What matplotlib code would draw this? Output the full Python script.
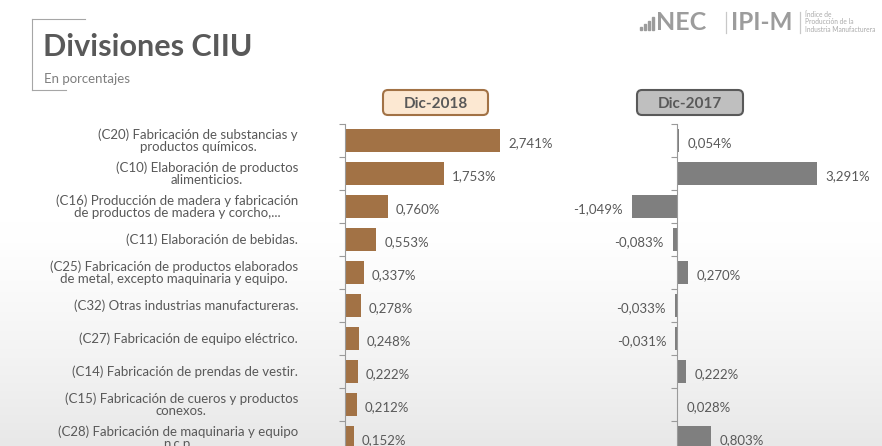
import matplotlib
matplotlib.use("Agg")
import matplotlib.pyplot as plt
import numpy as np
from matplotlib.patches import FancyBboxPatch, Rectangle
from matplotlib.lines import Line2D

plt.rcParams['font.family'] = ['Lato', 'DejaVu Sans']

categories = [
    "(C20) Fabricación de substancias y\nproductos químicos.",
    "(C10) Elaboración de productos\nalimenticios.",
    "(C16) Producción de madera y fabricación\nde productos de madera y corcho,...",
    "(C11) Elaboración de bebidas.",
    "(C25) Fabricación de productos elaborados\nde metal, excepto maquinaria y equipo.",
    "(C32) Otras industrias manufactureras.",
    "(C27) Fabricación de equipo eléctrico.",
    "(C14) Fabricación de prendas de vestir.",
    "(C15) Fabricación de cueros y productos\nconexos.",
    "(C28) Fabricación de maquinaria y equipo\nn.c.p.",
]
dic2018 = [2.741, 1.753, 0.760, 0.553, 0.337, 0.278, 0.248, 0.222, 0.212, 0.152]
dic2017 = [0.054, 3.291, -1.049, -0.083, 0.270, -0.033, -0.031, 0.222, 0.028, 0.803]
headers = ["Dic-2018", "Dic-2017"]
title = "Divisiones CIIU"
subtitle = "En porcentajes"

W, H = 882, 446
fig = plt.figure(figsize=(W / 100, H / 100), dpi=100)

def fx(x): return x / W
def fy(y): return 1 - y / H

# background gradient
bg = fig.add_axes([0, 0, 1, 1], zorder=-10)
grad = np.ones((200, 2, 3))
t = np.linspace(0, 1, 200)
shade = np.clip((t - 0.5) / 0.5, 0, 1) ** 1.3
for c in range(3):
    grad[:, :, c] = (1 - 0.09 * shade)[:, None]
bg.imshow(grad, aspect='auto', extent=[0, 1, 0, 1], origin='upper')
bg.set_axis_off()

text_col = '#595959'
brown = '#A27245'
gray = '#7F7F7F'

n = len(categories)
ypos = np.arange(n)
top_px, row_px = 124, 33
bottom_px = top_px + row_px * n

def make_axes(spine_px, left_px, right_px, scale):
    ax = fig.add_axes([fx(left_px), fy(bottom_px), (right_px - left_px) / W,
                       (bottom_px - top_px) / H])
    ax.set_xlim(-(spine_px - left_px) / scale, (right_px - spine_px) / scale)
    ax.set_ylim(n - 0.5, -0.5)
    ax.patch.set_alpha(0)
    for s in ['top', 'right', 'bottom']:
        ax.spines[s].set_visible(False)
    ax.spines['left'].set_position(('data', 0))
    ax.spines['left'].set_color('#9a9a9a')
    ax.spines['left'].set_linewidth(0.8)
    ax.set_xticks([])
    ax.set_yticks([])
    ax.set_yticks(np.arange(-0.5, n, 1.0), minor=True)
    ax.tick_params(axis='y', which='minor', length=4, color='#9a9a9a', width=0.8,
                   direction='out', labelleft=False)
    return ax

scale_l = 56.6
scale_r = 42.6
ax1 = make_axes(345, 345, 600, scale_l)
ax2 = make_axes(676.5, 560, 875, scale_r)

ax1.barh(ypos, dic2018, height=0.72, color=brown)
ax2.barh(ypos, dic2017, height=0.72, color=gray)

def fmt(v):
    return f"{v:.3f}".replace('.', ',') + '%'

for i, v in enumerate(dic2018):
    ax1.text(v + 8 / scale_l, i + 0.08, fmt(v), va='center', ha='left',
             fontsize=9.5, color=text_col)
for i, v in enumerate(dic2017):
    if v >= 0:
        ax2.text(v + 9 / scale_r, i + 0.08, fmt(v), va='center', ha='left',
                 fontsize=9.5, color=text_col)
    else:
        ax2.text(v - 9 / scale_r, i + 0.08, fmt(v), va='center', ha='right',
                 fontsize=9.5, color=text_col)

for i, lab in enumerate(categories):
    ax1.text(-47 / scale_l, i, lab, va='center', ha='right', multialignment='center',
             fontsize=9.5, color=text_col, linespacing=1.05, clip_on=False)

# header boxes
def header(x0, x1, text, fc, ec):
    y0, y1 = 90, 115
    box = FancyBboxPatch((x0 / 100, (H - y1) / 100), (x1 - x0) / 100, (y1 - y0) / 100,
                         boxstyle="round,pad=0,rounding_size=0.05",
                         transform=fig.dpi_scale_trans, fc=fc, ec=ec, lw=1.5)
    fig.patches.append(box)
    fig.text(fx((x0 + x1) / 2), fy((y0 + y1) / 2 + 1), text, ha='center', va='center',
             fontsize=11, fontweight='bold', color=text_col)

header(383, 488, headers[0], '#FCE8D2', '#A27245')
header(637, 743, headers[1], '#BFBFBF', '#595959')

# title block
fig.text(fx(43), fy(47), title, fontsize=22, fontweight='bold', color=text_col,
         ha='left', va='center')
fig.text(fx(44), fy(79), subtitle, fontsize=9.5, color='#7f7f7f', ha='left', va='center')
lc = '#a6a6a6'
fig.lines.append(Line2D([fx(32), fx(32)], [fy(19), fy(90)], color=lc, lw=0.8,
                        transform=fig.transFigure))
fig.lines.append(Line2D([fx(32), fx(85)], [fy(19), fy(19)], color=lc, lw=0.8,
                        transform=fig.transFigure))
fig.lines.append(Line2D([fx(32), fx(66)], [fy(90), fy(90)], color=lc, lw=0.8,
                        transform=fig.transFigure))

# logo
logo_col = '#9c9c9c'
for k, (bx, bh) in enumerate([(640, 3), (644, 6), (648, 9), (652, 13)]):
    fig.patches.append(Rectangle((fx(bx), fy(30)), 2.4 / W, bh / H, color=logo_col,
                                 transform=fig.transFigure))
fig.text(fx(656), fy(23), "NEC", fontsize=18, fontweight='bold', color=logo_col,
         ha='left', va='center')
fig.lines.append(Line2D([fx(726), fx(726)], [fy(12), fy(33)], color='#c8c8c8', lw=0.9,
                        transform=fig.transFigure))
fig.text(fx(731), fy(23), "IPI-M", fontsize=17.5, fontweight='bold', color=logo_col,
         ha='left', va='center')
fig.lines.append(Line2D([fx(800), fx(800)], [fy(12), fy(33)], color='#c8c8c8', lw=0.9,
                        transform=fig.transFigure))
fig.text(fx(805), fy(22), "Índice de\nProducción de la\nIndustria Manufacturera",
         fontsize=4.8, color='#aaaaaa', ha='left', va='center', linespacing=1.1)

fig.savefig("out.png", dpi=100)
